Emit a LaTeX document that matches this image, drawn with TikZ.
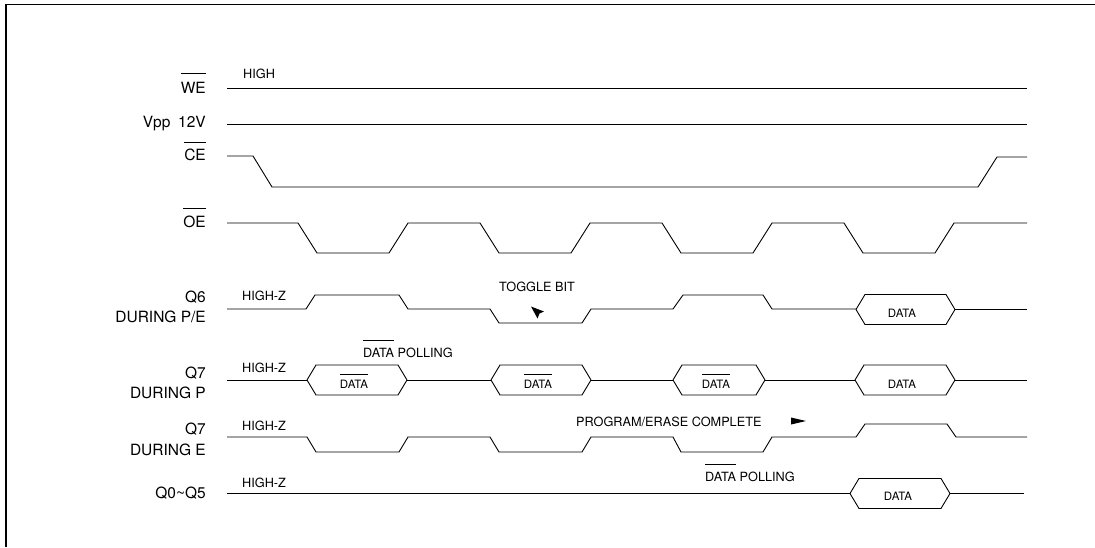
\documentclass[tikz,border=0pt]{standalone}
\usepackage{fontspec}
\setmainfont{TeX Gyre Heros}
\usepackage{tikz}
% bar over a signal name, with a gap
\newcommand{\barred}[2][6pt]{\vbox{\hrule height 0.6pt\kern#1\hbox{#2}}}

\begin{document}
\begin{tikzpicture}[x=1pt,y=-1pt,
		sig/.style={line width=0.9pt,line join=round},
		frame/.style={line width=1.1pt},
		lbl/.style={font=\fontsize{15.5}{20.5}\selectfont,align=right,inner sep=0pt},
		note/.style={font=\fontsize{12.7}{15}\selectfont,inner sep=0pt,anchor=base west},
		dat/.style={font=\fontsize{11.5}{13}\selectfont,inner sep=0pt,anchor=base},
		pointer/.style={fill=black}
		]
		\useasboundingbox (0,0) rectangle (1095,547);
		\draw[frame] (6,547) -- (6,4.5) -- (1095,4.5);

		% signal names
		\node[lbl,anchor=base east] (we) at (206,93) {\barred[8pt]{WE}};
		\node[lbl,anchor=base east] (vpp) at (206,127) {Vpp\enspace 12V};
		\node[lbl,anchor=base east] (ce) at (206,160) {\barred{CE}};
		\node[lbl,anchor=base east] (oe) at (206,227) {\barred[7pt]{OE}};
		\node[lbl,anchor=north east] (q6) at (206,290.5) {Q6\\DURING P/E};
		\node[lbl,anchor=north east] (q7p) at (206,366.5) {Q7\\DURING P};
		\node[lbl,anchor=north east] (q7e) at (206,423) {Q7\\DURING E};
		\node[lbl,anchor=base east] (q05) at (206,498) {Q0\textasciitilde Q5};

		% notes
		\node[note] (high) at (243,78.3) {HIGH};
		\node[note] (hz6) at (242,300) {HIGH-Z};
		\node[note] (hz7p) at (242,372.5) {HIGH-Z};
		\node[note] (hz7e) at (242,430.5) {HIGH-Z};
		\node[note] (hz05) at (242,487) {HIGH-Z};
		\node[note] (toggle) at (499,291) {TOGGLE BIT};
		\node[note] (poll1) at (363,357.5) {\barred[7.5pt]{DATA} POLLING};
		\node[note] (pec) at (576,426.5) {PROGRAM/ERASE COMPLETE};
		\node[note] (poll2) at (705,481.5) {\barred[7.5pt]{DATA} POLLING};

		% waveforms
		\draw[sig] (227,88.5) -- (1027,88.5);
		\draw[sig] (227,124) -- (1027,124);
		\draw[sig] (227,156) -- (253,156) -- (272,187) -- (978,187) -- (997,157) -- (1027,157);
		\draw[sig] (227,223) \foreach \t in {298,480,662,844} { -- (\t,223) -- (\t+19,253) -- (\t+91,253) -- (\t+110,223) } -- (1027,223);
		\draw[sig] (227,309) -- (306,309) -- (315,295) -- (399,295) -- (408,309) -- (490,309) -- (499,323) -- (582,323)
			-- (591,309) -- (673,309) -- (683,295) -- (763,295) -- (772,309) -- (856,309);
		\draw[sig] (955,309) -- (1027,309);
		\draw[sig] (227,380) -- (307,380) (407,380) -- (491,380) (591,380) -- (673,380) (765,380) -- (855,380) (955,380) -- (1027,380);
		\draw[sig] (227,437) -- (307,437) -- (316,452) -- (399,452) -- (408,437) -- (490,437) -- (499,452) -- (582,452)
			-- (591,437) -- (673,437) -- (681,452) -- (763,452) -- (772,437) -- (856,437) -- (865,424) -- (947,424) -- (956,437) -- (1027,437);
		\draw[sig] (227,493.5) -- (850,493.5) (950,493.5) -- (1024,493.5);

		% data windows
		\foreach \l/\r/\m in {856/955/309.5, 307/407/380, 491/591/380, 673/765/380, 855/955/380, 850/950/493.5}
			\draw[sig] (\l,\m) -- (\l+9,\m-15) -- (\r-9,\m-15) -- (\r,\m) -- (\r-9,\m+15) -- (\l+9,\m+15) -- cycle;
		\node[dat] (d6) at (902,317) {DATA};
		\node[dat] (dp1) at (354,388.5) {\barred{DATA}};
		\node[dat] (dp2) at (538,388.5) {\barred{DATA}};
		\node[dat] (dp3) at (716,388.5) {\barred{DATA}};
		\node[dat] (dp4) at (902,388.5) {DATA};
		\node[dat] (d05) at (898,500.5) {DATA};

		% pointers
		\fill[pointer] (531,306.5) -- (544,311.5) -- (539.5,313.5) -- (537.5,318.5) -- cycle;
		\fill[pointer] (791,417.5) -- (806,421) -- (791,424.5) -- cycle;
	\end{tikzpicture}
\end{document}
